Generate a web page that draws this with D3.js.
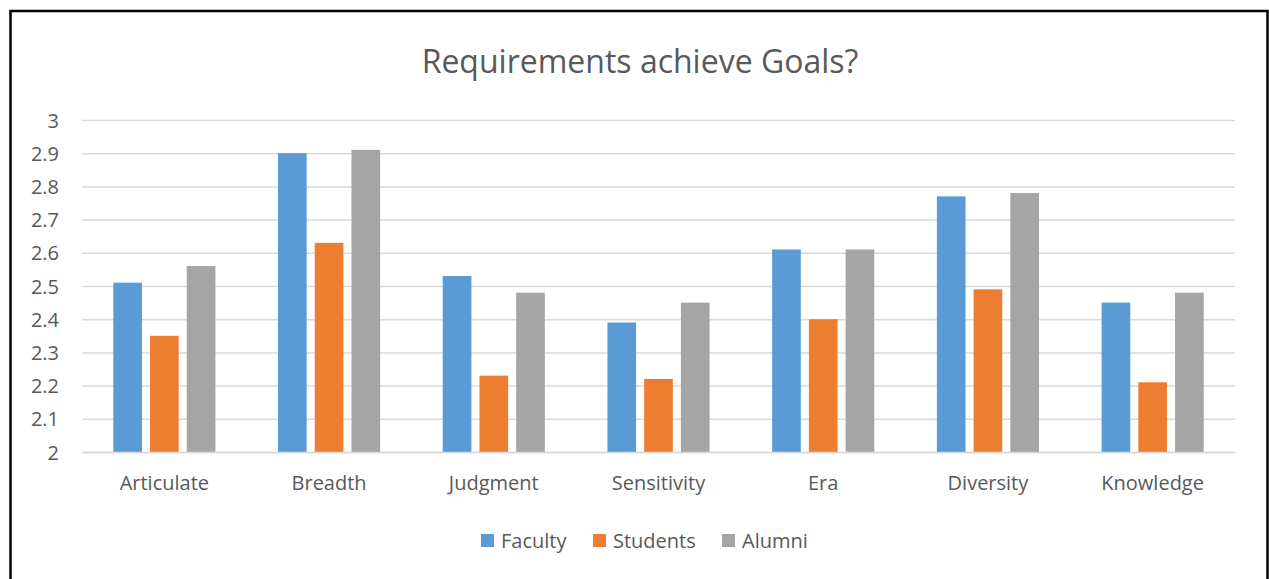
<!DOCTYPE html>
<html><head><meta charset="utf-8">
<script src="https://cdn.jsdelivr.net/npm/d3@7"></script>
<style>
html,body{margin:0;padding:0;background:#fff;}
svg{display:block;}
text{font-family:"Open Sans","Noto Sans",sans-serif;fill:#595959;}
</style></head>
<body>
<svg id="chart" width="1269" height="579"></svg>
<script>
const categories = ["Articulate","Breadth","Judgment","Sensitivity","Era","Diversity","Knowledge"];
const seriesNames = ["Faculty","Students","Alumni"];
const faculty  = [2.51, 2.90, 2.53, 2.39, 2.61, 2.77, 2.45];
const students = [2.35, 2.63, 2.23, 2.22, 2.40, 2.49, 2.21];
const alumni   = [2.56, 2.91, 2.48, 2.45, 2.61, 2.78, 2.48];
const yTicks = [2, 2.1, 2.2, 2.3, 2.4, 2.5, 2.6, 2.7, 2.8, 2.9, 3];
const colors = ["#5B9BD5", "#ED7D31", "#A5A5A5"];
const title = "Requirements achieve Goals?";

(function(){
const seriesValues = [faculty, students, alumni];
const svg = d3.select("#chart");

svg.append("path").attr("d","M10.5,600 V11 H1267.5 V600")
  .attr("fill","none").attr("stroke","#000").attr("stroke-width",2.5);

const pLeft = 82, pRight = 1235, pTop = 120, pBottom = 452;
const x0 = d3.scaleBand().domain(categories).range([pLeft, pRight]).paddingInner(0.38).paddingOuter(0.19);
const x1 = d3.scaleBand().domain(seriesNames).range([0, x0.bandwidth()]).paddingInner(0.22);
const y = d3.scaleLinear().domain([2, 3]).range([pBottom, pTop]);

const yAxis = d3.axisLeft(y).tickValues(yTicks).tickSize(-(pRight-pLeft)).tickFormat(d3.format("~g")).tickPadding(23);
const gy = svg.append("g").attr("transform",`translate(${pLeft},0)`).call(yAxis);
gy.select(".domain").remove();
gy.selectAll(".tick line").attr("stroke","#d9d9d9").attr("stroke-width",1.5);
gy.selectAll(".tick text").style("font-size","20px").attr("fill","#595959").attr("dy","0.35em");

const groups = svg.append("g").selectAll("g").data(categories).join("g")
  .attr("transform", d => `translate(${x0(d)},0)`);
groups.selectAll("rect").data((c, i) => seriesNames.map((s, k) => ({s, k, v: seriesValues[k][i]})))
  .join("rect")
  .attr("x", d => x1(d.s))
  .attr("width", x1.bandwidth())
  .attr("y", d => y(d.v))
  .attr("height", d => y(2) - y(d.v))
  .attr("fill", d => colors[d.k]);

const xAxis = d3.axisBottom(x0).tickSize(0).tickPadding(24);
const gx = svg.append("g").attr("transform",`translate(0,${pBottom})`).call(xAxis);
gx.select(".domain").attr("stroke","#d9d9d9").attr("stroke-width",1.5);
gx.selectAll(".tick text").style("font-size","20px").attr("fill","#595959");

svg.append("text").attr("x", 640).attr("y", 73).attr("text-anchor","middle")
  .style("font-size","32px").text(title);

const legendX = [481, 593, 722];
const lg = svg.append("g").selectAll("g").data(seriesNames).join("g")
  .attr("transform", (d,i) => `translate(${legendX[i]},534)`);
lg.append("rect").attr("width",13).attr("height",13).attr("fill",(d,i)=>colors[i]);
lg.append("text").attr("x",20).attr("y",13.5).style("font-size","20px").text(d=>d);
})();
</script>
</body></html>
